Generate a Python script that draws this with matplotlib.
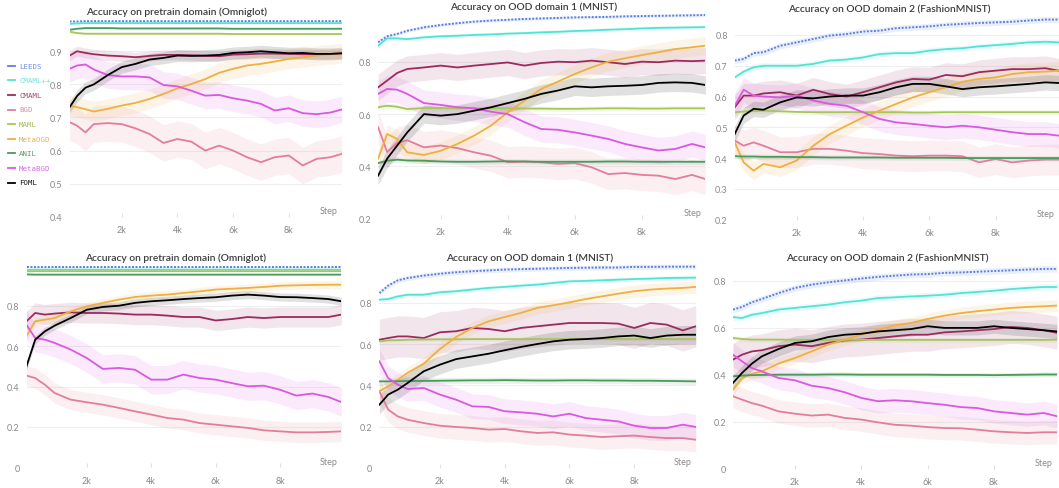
import numpy as np
import matplotlib
matplotlib.use("Agg")
import matplotlib.pyplot as plt

# ---------------- data ----------------
STEPS = [130, 400, 700, 1000, 1500, 2000, 2500, 3000, 3500, 4000, 4500,
         5000, 5500, 6000, 6500, 7000, 7500, 8000, 8500, 9000, 9500, 9900]

SERIES = ["LEEDS", "CMAML++", "CMAML", "BGD", "MAML", "MetaOGD", "ANIL", "MetaBGD", "FOML"]

TITLES = ["Accuracy on pretrain domain (Omniglot)",
          "Accuracy on OOD domain 1 (MNIST)",
          "Accuracy on OOD domain 2 (FashionMNIST)",
          "Accuracy on pretrain domain (Omniglot)",
          "Accuracy on OOD domain 1 (MNIST)",
          "Accuracy on OOD domain 2 (FashionMNIST)"]

XTICKS = [2000, 4000, 6000, 8000]
XTICK_LABELS = ["2k", "4k", "6k", "8k"]

# Panel 1: top-left, pretrain (Omniglot)
p1_leeds   = [0.990,0.990,0.991,0.991,0.991,0.991,0.991,0.991,0.991,0.991,0.991,0.991,0.991,0.991,0.991,0.991,0.991,0.991,0.991,0.991,0.991,0.991]
p1_cmamlpp = [0.983,0.984,0.985,0.985,0.985,0.985,0.985,0.985,0.985,0.985,0.985,0.985,0.985,0.985,0.985,0.985,0.985,0.985,0.985,0.985,0.985,0.985]
p1_cmaml   = [0.887,0.900,0.895,0.891,0.887,0.885,0.882,0.886,0.889,0.889,0.888,0.886,0.885,0.890,0.891,0.893,0.893,0.892,0.891,0.891,0.892,0.893]
p1_bgd     = [0.686,0.675,0.655,0.680,0.683,0.680,0.667,0.650,0.623,0.635,0.627,0.600,0.615,0.600,0.580,0.565,0.580,0.585,0.555,0.575,0.580,0.590]
p1_maml    = [0.959,0.955,0.953,0.953,0.953,0.953,0.953,0.953,0.953,0.953,0.953,0.953,0.953,0.952,0.952,0.952,0.952,0.952,0.952,0.952,0.952,0.952]
p1_metaogd = [0.736,0.731,0.725,0.718,0.726,0.736,0.744,0.756,0.771,0.788,0.801,0.816,0.835,0.847,0.857,0.862,0.869,0.877,0.882,0.887,0.891,0.894]
p1_anil    = [0.965,0.968,0.970,0.970,0.970,0.969,0.969,0.969,0.969,0.969,0.969,0.969,0.969,0.968,0.968,0.968,0.968,0.968,0.968,0.968,0.968,0.968]
p1_metabgd = [0.847,0.857,0.860,0.845,0.828,0.824,0.824,0.821,0.798,0.794,0.781,0.766,0.768,0.758,0.751,0.741,0.721,0.728,0.713,0.710,0.715,0.724]
p1_foml    = [0.731,0.765,0.790,0.800,0.828,0.852,0.862,0.875,0.880,0.887,0.886,0.887,0.889,0.895,0.897,0.900,0.897,0.894,0.895,0.892,0.892,0.894]

# Panel 2: top-middle, OOD 1 (MNIST)
p2_leeds   = [0.874,0.897,0.906,0.918,0.931,0.940,0.947,0.953,0.957,0.960,0.963,0.965,0.967,0.969,0.970,0.971,0.973,0.974,0.975,0.976,0.977,0.978]
p2_cmamlpp = [0.861,0.889,0.889,0.886,0.893,0.897,0.899,0.902,0.904,0.907,0.909,0.912,0.914,0.917,0.919,0.922,0.924,0.927,0.929,0.930,0.931,0.932]
p2_cmaml   = [0.702,0.728,0.757,0.772,0.778,0.785,0.778,0.785,0.791,0.797,0.785,0.795,0.800,0.798,0.804,0.798,0.791,0.800,0.798,0.804,0.802,0.804]
p2_bgd     = [0.550,0.455,0.490,0.500,0.473,0.480,0.470,0.454,0.441,0.416,0.419,0.416,0.410,0.413,0.397,0.371,0.375,0.368,0.365,0.352,0.368,0.352]
p2_maml    = [0.626,0.632,0.628,0.619,0.623,0.623,0.622,0.622,0.622,0.622,0.621,0.621,0.620,0.620,0.621,0.622,0.622,0.621,0.621,0.622,0.622,0.622]
p2_metaogd = [0.430,0.524,0.505,0.454,0.444,0.460,0.486,0.518,0.556,0.607,0.651,0.696,0.724,0.753,0.778,0.800,0.813,0.825,0.836,0.848,0.855,0.861]
p2_anil    = [0.413,0.422,0.426,0.423,0.422,0.419,0.418,0.418,0.419,0.420,0.419,0.418,0.418,0.418,0.418,0.419,0.419,0.418,0.418,0.418,0.418,0.418]
p2_metabgd = [0.677,0.696,0.693,0.677,0.642,0.635,0.626,0.622,0.609,0.600,0.569,0.543,0.540,0.530,0.518,0.505,0.486,0.473,0.461,0.467,0.486,0.473]
p2_foml    = [0.365,0.430,0.480,0.530,0.600,0.594,0.600,0.613,0.626,0.642,0.658,0.677,0.690,0.706,0.702,0.706,0.708,0.711,0.719,0.721,0.719,0.711]

# Panel 3: top-right, OOD 2 (FashionMNIST)
p3_leeds   = [0.717,0.722,0.741,0.744,0.765,0.776,0.787,0.798,0.803,0.811,0.814,0.822,0.825,0.828,0.833,0.836,0.839,0.841,0.843,0.847,0.850,0.850]
p3_cmamlpp = [0.662,0.681,0.695,0.700,0.700,0.700,0.706,0.717,0.720,0.727,0.738,0.741,0.741,0.749,0.754,0.757,0.763,0.767,0.771,0.776,0.778,0.776]
p3_cmaml   = [0.565,0.603,0.603,0.610,0.614,0.603,0.622,0.608,0.600,0.614,0.630,0.646,0.657,0.655,0.670,0.666,0.679,0.684,0.689,0.689,0.692,0.684]
p3_bgd     = [0.457,0.440,0.451,0.440,0.419,0.419,0.430,0.430,0.424,0.416,0.413,0.408,0.406,0.408,0.408,0.406,0.386,0.397,0.386,0.392,0.395,0.395]
p3_maml    = [0.549,0.551,0.553,0.554,0.552,0.550,0.549,0.549,0.549,0.549,0.549,0.549,0.548,0.548,0.549,0.549,0.549,0.549,0.549,0.549,0.549,0.549]
p3_metaogd = [0.451,0.386,0.359,0.381,0.370,0.392,0.440,0.478,0.505,0.532,0.554,0.576,0.597,0.614,0.630,0.648,0.657,0.662,0.673,0.679,0.681,0.684]
p3_anil    = [0.406,0.405,0.405,0.404,0.404,0.403,0.403,0.402,0.402,0.402,0.402,0.401,0.401,0.401,0.401,0.400,0.400,0.400,0.400,0.400,0.400,0.400]
p3_metabgd = [0.570,0.622,0.603,0.600,0.597,0.603,0.587,0.576,0.570,0.549,0.527,0.516,0.511,0.505,0.500,0.505,0.500,0.492,0.484,0.478,0.478,0.473]
p3_foml    = [0.478,0.538,0.560,0.557,0.581,0.597,0.594,0.600,0.603,0.603,0.614,0.630,0.641,0.641,0.633,0.624,0.630,0.633,0.637,0.641,0.646,0.644]

# Panel 4: bottom-left, pretrain (Omniglot)
p4_leeds   = [0.991,0.991,0.991,0.991,0.991,0.991,0.991,0.991,0.991,0.991,0.991,0.991,0.991,0.991,0.991,0.991,0.991,0.991,0.991,0.991,0.991,0.991]
p4_cmamlpp = [0.978,0.979,0.979,0.979,0.979,0.979,0.979,0.979,0.979,0.979,0.979,0.979,0.979,0.979,0.979,0.979,0.979,0.979,0.979,0.979,0.979,0.979]
p4_cmaml   = [0.723,0.764,0.756,0.761,0.767,0.764,0.764,0.761,0.756,0.756,0.751,0.744,0.744,0.727,0.734,0.744,0.739,0.744,0.744,0.744,0.744,0.756]
p4_bgd     = [0.454,0.442,0.409,0.368,0.335,0.322,0.310,0.294,0.277,0.261,0.244,0.236,0.219,0.211,0.203,0.195,0.183,0.178,0.173,0.173,0.175,0.178]
p4_maml    = [0.970,0.971,0.971,0.971,0.971,0.971,0.971,0.971,0.971,0.971,0.971,0.971,0.971,0.971,0.971,0.971,0.971,0.971,0.971,0.971,0.971,0.971]
p4_metaogd = [0.649,0.723,0.731,0.739,0.772,0.797,0.814,0.830,0.843,0.850,0.855,0.863,0.871,0.880,0.884,0.888,0.893,0.899,0.901,0.903,0.904,0.904]
p4_anil    = [0.955,0.954,0.954,0.954,0.954,0.954,0.954,0.954,0.954,0.954,0.954,0.954,0.954,0.954,0.954,0.954,0.954,0.954,0.954,0.954,0.954,0.954]
p4_metabgd = [0.705,0.640,0.632,0.616,0.583,0.541,0.487,0.492,0.483,0.434,0.434,0.459,0.442,0.434,0.417,0.401,0.404,0.384,0.355,0.365,0.348,0.323]
p4_foml    = [0.500,0.632,0.673,0.701,0.739,0.780,0.794,0.800,0.814,0.822,0.827,0.833,0.838,0.842,0.850,0.855,0.850,0.843,0.842,0.838,0.833,0.822]

# Panel 5: bottom-middle, OOD 1 (MNIST)
p5_leeds   = [0.848,0.884,0.910,0.921,0.933,0.942,0.949,0.954,0.958,0.962,0.964,0.966,0.968,0.970,0.971,0.972,0.972,0.975,0.975,0.976,0.976,0.976]
p5_cmamlpp = [0.816,0.819,0.832,0.840,0.840,0.852,0.857,0.865,0.873,0.878,0.884,0.889,0.897,0.905,0.907,0.910,0.913,0.916,0.918,0.921,0.922,0.923]
p5_cmaml   = [0.622,0.630,0.638,0.638,0.630,0.658,0.663,0.679,0.674,0.663,0.679,0.687,0.695,0.703,0.703,0.703,0.700,0.679,0.703,0.695,0.667,0.687]
p5_bgd     = [0.372,0.283,0.250,0.234,0.218,0.205,0.199,0.194,0.186,0.189,0.178,0.170,0.173,0.162,0.157,0.150,0.154,0.157,0.150,0.145,0.145,0.137]
p5_maml    = [0.614,0.619,0.620,0.622,0.623,0.624,0.624,0.625,0.625,0.625,0.625,0.625,0.625,0.625,0.625,0.625,0.625,0.625,0.625,0.625,0.625,0.625]
p5_metaogd = [0.372,0.396,0.428,0.461,0.506,0.577,0.635,0.679,0.711,0.732,0.752,0.776,0.789,0.803,0.819,0.832,0.845,0.857,0.865,0.870,0.873,0.878]
p5_anil    = [0.420,0.420,0.421,0.422,0.422,0.423,0.424,0.425,0.425,0.426,0.425,0.424,0.424,0.425,0.425,0.424,0.424,0.423,0.423,0.422,0.421,0.420]
p5_metabgd = [0.517,0.436,0.404,0.383,0.388,0.356,0.331,0.299,0.296,0.275,0.270,0.263,0.250,0.263,0.242,0.234,0.226,0.205,0.194,0.194,0.210,0.199]
p5_foml    = [0.307,0.356,0.380,0.412,0.469,0.501,0.528,0.541,0.554,0.571,0.587,0.601,0.614,0.622,0.625,0.630,0.638,0.642,0.630,0.642,0.646,0.646]

# Panel 6: bottom-right, OOD 2 (FashionMNIST)
p6_leeds   = [0.677,0.688,0.708,0.722,0.747,0.769,0.783,0.793,0.801,0.809,0.816,0.821,0.826,0.828,0.833,0.835,0.838,0.841,0.844,0.847,0.850,0.850]
p6_cmamlpp = [0.645,0.641,0.655,0.662,0.677,0.684,0.691,0.698,0.708,0.715,0.726,0.729,0.733,0.736,0.740,0.747,0.752,0.757,0.764,0.769,0.773,0.773]
p6_cmaml   = [0.464,0.485,0.499,0.504,0.521,0.528,0.521,0.535,0.546,0.549,0.556,0.563,0.570,0.570,0.580,0.584,0.589,0.594,0.603,0.599,0.589,0.578]
p6_bgd     = [0.308,0.294,0.279,0.268,0.244,0.234,0.226,0.230,0.216,0.209,0.197,0.187,0.183,0.177,0.173,0.172,0.166,0.159,0.155,0.152,0.155,0.155]
p6_maml    = [0.556,0.552,0.549,0.549,0.549,0.548,0.548,0.548,0.548,0.548,0.548,0.548,0.548,0.548,0.548,0.548,0.548,0.548,0.548,0.548,0.548,0.549]
p6_metaogd = [0.336,0.386,0.404,0.414,0.447,0.471,0.499,0.528,0.549,0.570,0.591,0.609,0.620,0.637,0.651,0.662,0.670,0.677,0.684,0.688,0.691,0.694]
p6_anil    = [0.393,0.396,0.398,0.399,0.400,0.400,0.400,0.401,0.401,0.400,0.400,0.400,0.400,0.400,0.399,0.399,0.399,0.398,0.399,0.400,0.401,0.401]
p6_metabgd = [0.485,0.457,0.428,0.414,0.386,0.376,0.353,0.343,0.325,0.301,0.287,0.291,0.287,0.279,0.272,0.262,0.258,0.244,0.237,0.230,0.237,0.223]
p6_foml    = [0.365,0.407,0.447,0.478,0.509,0.535,0.542,0.560,0.570,0.574,0.584,0.589,0.594,0.606,0.599,0.599,0.599,0.606,0.599,0.594,0.589,0.584]

# half-width of the shaded spread for each series (LEEDS..FOML order)
p1_band = [0.002, 0.002, 0.015, 0.055, 0.003, 0.030, 0.003, 0.040, 0.018]
p2_band = [0.006, 0.008, 0.050, 0.060, 0.010, 0.035, 0.010, 0.050, 0.035]
p3_band = [0.010, 0.010, 0.040, 0.050, 0.008, 0.030, 0.008, 0.040, 0.025]
p4_band = [0.003, 0.003, 0.050, 0.050, 0.003, 0.020, 0.003, 0.070, 0.020]
p5_band = [0.012, 0.012, 0.100, 0.060, 0.008, 0.030, 0.015, 0.060, 0.045]
p6_band = [0.014, 0.014, 0.070, 0.050, 0.010, 0.025, 0.010, 0.050, 0.030]

PANEL_DATA = [
    [p1_leeds, p1_cmamlpp, p1_cmaml, p1_bgd, p1_maml, p1_metaogd, p1_anil, p1_metabgd, p1_foml],
    [p2_leeds, p2_cmamlpp, p2_cmaml, p2_bgd, p2_maml, p2_metaogd, p2_anil, p2_metabgd, p2_foml],
    [p3_leeds, p3_cmamlpp, p3_cmaml, p3_bgd, p3_maml, p3_metaogd, p3_anil, p3_metabgd, p3_foml],
    [p4_leeds, p4_cmamlpp, p4_cmaml, p4_bgd, p4_maml, p4_metaogd, p4_anil, p4_metabgd, p4_foml],
    [p5_leeds, p5_cmamlpp, p5_cmaml, p5_bgd, p5_maml, p5_metaogd, p5_anil, p5_metabgd, p5_foml],
    [p6_leeds, p6_cmamlpp, p6_cmaml, p6_bgd, p6_maml, p6_metaogd, p6_anil, p6_metabgd, p6_foml],
]
PANEL_BANDS = [p1_band, p2_band, p3_band, p4_band, p5_band, p6_band]

YTICKS = [
    [0.4, 0.5, 0.6, 0.7, 0.8, 0.9],
    [0.2, 0.4, 0.6, 0.8],
    [0.2, 0.3, 0.4, 0.5, 0.6, 0.7, 0.8],
    [0.0, 0.2, 0.4, 0.6, 0.8],
    [0.0, 0.2, 0.4, 0.6, 0.8],
    [0.0, 0.2, 0.4, 0.6, 0.8],
]
YTICK_LABELS = [
    ["0.4", "0.5", "0.6", "0.7", "0.8", "0.9"],
    ["0.2", "0.4", "0.6", "0.8"],
    ["0.2", "0.3", "0.4", "0.5", "0.6", "0.7", "0.8"],
    ["0", "0.2", "0.4", "0.6", "0.8"],
    ["0", "0.2", "0.4", "0.6", "0.8"],
    ["0", "0.2", "0.4", "0.6", "0.8"],
]

# ---------------- style ----------------
COLORS = ["#5a80e0", "#52e3d6", "#9c2a60", "#e27d9b", "#a6c65c",
          "#eeb040", "#4a9a5c", "#d958e0", "#000000"]
LEGEND_TEXT_COLORS = ["#6f8fe6", "#6ae6da", "#a5416f", "#e38aa4", "#a3bd62",
                      "#e8b04e", "#5a9a68", "#d86ee0", "#111111"]

W, H = 1059, 489
fig = plt.figure(figsize=(W / 100, H / 100), dpi=100)
fig.patch.set_facecolor("white")

# axes boxes in pixels: left, right, top, bottom ; plus y-limits
BOXES = [
    (69.6, 341.7, 17.5, 217.8, (0.4, 1.005)),
    (378.1, 705.4, 14.2, 219.9, (0.2, 0.985)),
    (734.7, 1058.6, 16.9, 220.6, (0.2, 0.862)),
    (26.5, 341.3, 264.3, 468.3, (0.0, 1.01)),
    (379.4, 695.8, 264.8, 469.0, (0.0, 0.99)),
    (733.0, 1057.0, 265.2, 469.7, (0.0, 0.87)),
]
TITLE_POS = [(177, 12), (534, 7), (889, 9.5), (176, 258), (530, 258), (887, 258)]

FONT = "Lato"
TICK_COLOR = "#8a8a8a"
x = np.array(STEPS, dtype=float)

for i, (l, r, t, b, ylim) in enumerate(BOXES):
    ax = fig.add_axes([l / W, 1 - b / H, (r - l) / W, (b - t) / H])
    ax.set_xlim(130, 9900)
    ax.set_ylim(*ylim)
    for s in ax.spines.values():
        s.set_visible(False)
    ax.set_yticks(YTICKS[i])
    ax.set_yticklabels(YTICK_LABELS[i])
    ax.set_xticks(XTICKS)
    ax.set_xticklabels(XTICK_LABELS)
    ax.tick_params(axis="y", length=0, labelsize=6.5, labelcolor=TICK_COLOR, pad=5)
    ax.tick_params(axis="x", length=3, direction="in", color="#e2e2e2",
                   labelsize=6.5, labelcolor=TICK_COLOR, pad=6)
    for lab in ax.get_xticklabels() + ax.get_yticklabels():
        lab.set_fontfamily(FONT)
    ax.grid(axis="y", color="#efefef", lw=0.8)
    ax.set_axisbelow(True)

    data = PANEL_DATA[i]
    bands = PANEL_BANDS[i]
    for k, (ys, bw) in enumerate(zip(data, bands)):
        ys = np.array(ys)
        ax.fill_between(x, ys - bw, ys + bw, color=COLORS[k], alpha=0.12, lw=0)
    for k, ys in enumerate(data):
        if k == 0:
            ax.plot(x, ys, color=COLORS[k], lw=1.4, ls=(0, (1, 0.8)))
        else:
            ax.plot(x, ys, color=COLORS[k], lw=1.3)

    ax.annotate("Step", xy=(1, 0), xycoords="axes fraction", xytext=(-3, 4.5),
                textcoords="offset points", ha="right", va="center",
                fontsize=6.5, color=TICK_COLOR, family=FONT)
    tx, ty = TITLE_POS[i]
    fig.text(tx / W, 1 - ty / H, TITLES[i], ha="center", va="center",
             fontsize=7.4, color="#3c3c3c", family=FONT, fontweight="semibold")

# legend at left of first panel
for k, name in enumerate(SERIES):
    yy = 66.7 + k * 14.6
    fig.add_artist(plt.Line2D([8.3 / W, 15 / W], [1 - yy / H, 1 - yy / H],
                              color=COLORS[k], lw=1.3))
    fig.text(19 / W, 1 - yy / H, name, ha="left", va="center",
             fontsize=5.3, family="DejaVu Sans Mono", color=LEGEND_TEXT_COLORS[k])

fig.savefig("out.png", dpi=100, facecolor="white")
